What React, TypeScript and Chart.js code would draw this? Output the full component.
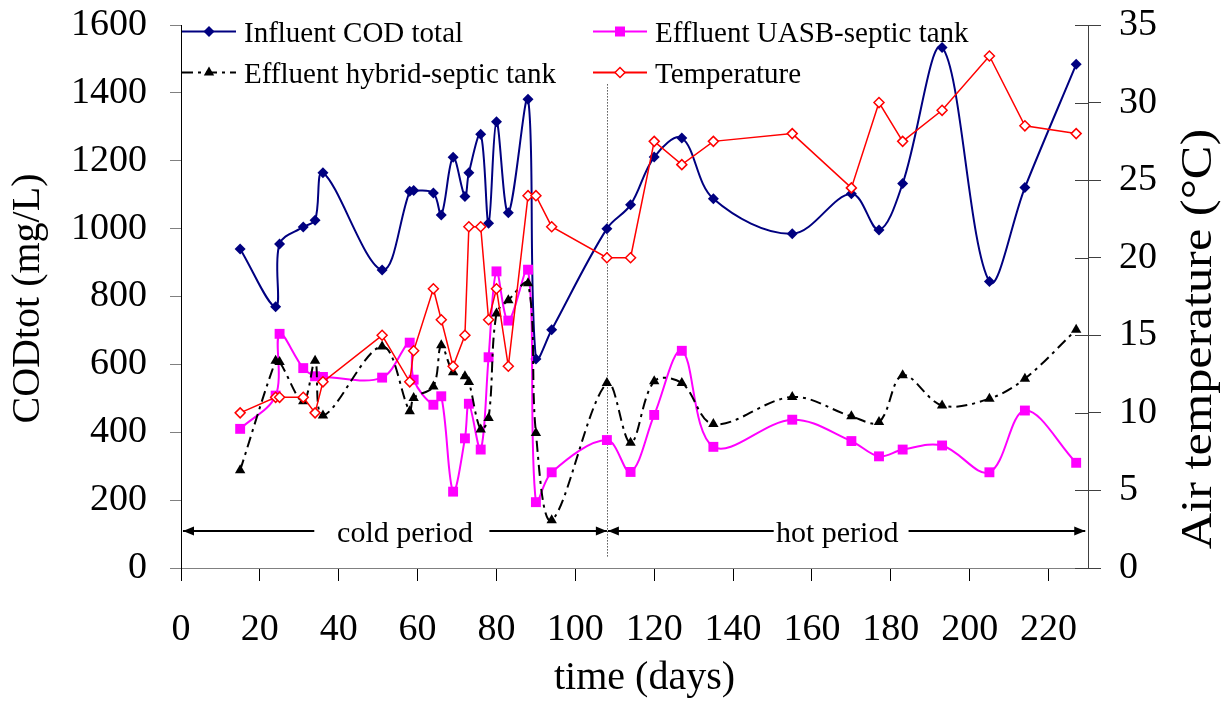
import React, { useEffect, useRef } from 'react';
import { Chart, registerables } from 'chart.js';

Chart.register(...registerables);

// ---- data ----
const days = [15, 24, 25, 31, 34, 36, 51, 58, 59, 64, 66, 69, 72, 73, 76, 78, 80, 83, 88, 90, 94, 108, 114, 120, 127, 135, 155, 170, 177, 183, 193, 205, 214, 227];
const influentCOD = [940, 770, 955, 1005, 1025, 1165, 878, 1110, 1112, 1105, 1040, 1210, 1095, 1165, 1278, 1016, 1315, 1047, 1381, 616, 702, 1000, 1070, 1211, 1267, 1088, 985, 1103, 996, 1133, 1534, 844, 1121, 1484];
const effluentUASB = [410, 508, 690, 589, 565, 563, 561, 664, 555, 481, 506, 225, 382, 484, 349, 621, 874, 729, 879, 194, 282, 377, 283, 451, 640, 357, 437, 374, 329, 349, 361, 282, 464, 310];
const effluentHybrid = [288, 611, 607, 491, 611, 449, 653, 462, 501, 535, 656, 577, 565, 548, 408, 442, 750, 789, 839, 398, 141, 545, 369, 550, 545, 424, 504, 447, 430, 568, 479, 499, 558, 702];
const temperature = [10, 11, 11, 11, 10, 12, 15, 12, 14, 18, 16, 13, 15, 22, 22, 16, 18, 13, 24, 24, 22, 20, 20, 27.5, 26, 27.5, 28, 24.5, 30, 27.5, 29.5, 33, 28.5, 28];

const seriesLabels = ['Influent COD total', 'Effluent UASB-septic tank', 'Effluent hybrid-septic tank', 'Temperature'];
const xTitle = 'time (days)';
const yTitle = 'CODtot (mg/L)';
const y1Title = 'Air temperature (°C)';
const periodBoundaryDay = 108;
const periodLabels = ['cold period', 'hot period'];
const periodArrowLevel = 108; // mg/L level of the period arrows

const FONT = "'Liberation Serif', 'Times New Roman', serif";
const NAVY = '#000080';
const MAGENTA = '#FF00FF';
const RED = '#FF0000';
const BLACK = '#000000';
const DASHDOT = [11, 5, 3, 5];

function drawMarker(ctx: CanvasRenderingContext2D, kind: string, x: number, y: number) {
  ctx.save();
  ctx.setLineDash([]);
  ctx.beginPath();
  if (kind === 'diamond') {
    const r = 5.5;
    ctx.moveTo(x, y - r); ctx.lineTo(x + r, y); ctx.lineTo(x, y + r); ctx.lineTo(x - r, y); ctx.closePath();
    ctx.fillStyle = NAVY; ctx.fill();
  } else if (kind === 'square') {
    const s = 5;
    ctx.rect(x - s, y - s, 2 * s, 2 * s);
    ctx.fillStyle = MAGENTA; ctx.fill();
  } else if (kind === 'triangle') {
    const r = 6;
    ctx.moveTo(x, y - r); ctx.lineTo(x + r * 0.866, y + r * 0.5); ctx.lineTo(x - r * 0.866, y + r * 0.5); ctx.closePath();
    ctx.fillStyle = BLACK; ctx.fill();
  } else {
    const r = 5;
    ctx.moveTo(x, y - r); ctx.lineTo(x + r, y); ctx.lineTo(x, y + r); ctx.lineTo(x - r, y); ctx.closePath();
    ctx.fillStyle = '#fff'; ctx.fill();
    ctx.strokeStyle = RED; ctx.lineWidth = 1.5; ctx.stroke();
  }
  ctx.restore();
}

function arrow(ctx: CanvasRenderingContext2D, x0: number, x1: number, y: number, headAt: 'start' | 'end') {
  ctx.save();
  ctx.strokeStyle = BLACK; ctx.fillStyle = BLACK; ctx.lineWidth = 2; ctx.setLineDash([]);
  ctx.beginPath(); ctx.moveTo(x0, y); ctx.lineTo(x1, y); ctx.stroke();
  const tip = headAt === 'start' ? x0 : x1;
  const dir = headAt === 'start' ? 1 : -1;
  ctx.beginPath();
  ctx.moveTo(tip, y);
  ctx.lineTo(tip + dir * 11, y - 4.5);
  ctx.lineTo(tip + dir * 11, y + 4.5);
  ctx.closePath(); ctx.fill();
  ctx.restore();
}

const decorPlugin = {
  id: 'decor',
  beforeDatasetsDraw(chart: any) {
    const { ctx, scales } = chart;
    const x = scales.x.getPixelForValue(periodBoundaryDay);
    ctx.save();
    ctx.strokeStyle = '#000'; ctx.lineWidth = 1; ctx.setLineDash([1, 2]);
    ctx.beginPath();
    ctx.moveTo(Math.round(x) + 0.5, scales.y.getPixelForValue(1425));
    ctx.lineTo(Math.round(x) + 0.5, scales.y.getPixelForValue(30));
    ctx.stroke();
    ctx.restore();
  },
  afterDraw(chart: any) {
    const { ctx, scales, chartArea } = chart;
    const sx = scales.x, sy = scales.y, sy1 = scales.y1;

    // inner part of right-axis ticks
    ctx.save();
    ctx.strokeStyle = '#404040'; ctx.lineWidth = 1;
    sy1.ticks.forEach((t: any) => {
      const py = Math.round(sy1.getPixelForValue(t.value)) + 0.5;
      ctx.beginPath(); ctx.moveTo(chartArea.right - 13, py); ctx.lineTo(chartArea.right, py); ctx.stroke();
    });
    ctx.restore();

    // period arrows and labels
    const ay = Math.round(sy.getPixelForValue(periodArrowLevel));
    const bx = sx.getPixelForValue(periodBoundaryDay);
    ctx.save();
    ctx.font = `30px ${FONT}`;
    ctx.fillStyle = '#000';
    ctx.textAlign = 'center';
    ctx.textBaseline = 'alphabetic';
    arrow(ctx, sx.getPixelForValue(0.5), sx.getPixelForValue(33.8), ay, 'start');
    ctx.fillText(periodLabels[0], sx.getPixelForValue(56.8), ay + 11);
    arrow(ctx, sx.getPixelForValue(78.2), bx, ay, 'end');
    arrow(ctx, bx + 1, sx.getPixelForValue(150.3), ay, 'start');
    ctx.fillText(periodLabels[1], sx.getPixelForValue(166.4), ay + 11);
    arrow(ctx, sx.getPixelForValue(184.5), sx.getPixelForValue(229.3), ay, 'end');
    ctx.restore();

    // legend
    const items = [
      { label: seriesLabels[0], color: NAVY, marker: 'diamond', dash: [] as number[], col: 0, row: 0 },
      { label: seriesLabels[1], color: MAGENTA, marker: 'square', dash: [] as number[], col: 1, row: 0 },
      { label: seriesLabels[2], color: BLACK, marker: 'triangle', dash: DASHDOT, col: 0, row: 1 },
      { label: seriesLabels[3], color: RED, marker: 'open', dash: [] as number[], col: 1, row: 1 },
    ];
    const colX = [chartArea.left + 1, chartArea.left + 412];
    const rowY = [31.5, 72.5];
    ctx.save();
    ctx.font = `29px ${FONT}`;
    ctx.textBaseline = 'alphabetic';
    ctx.textAlign = 'left';
    items.forEach((it) => {
      const x0 = colX[it.col];
      const y = rowY[it.row];
      ctx.save();
      ctx.strokeStyle = it.color; ctx.lineWidth = 2; ctx.setLineDash(it.dash);
      ctx.beginPath(); ctx.moveTo(x0, y); ctx.lineTo(x0 + 54, y); ctx.stroke();
      ctx.restore();
      drawMarker(ctx, it.marker, x0 + 27, y);
      ctx.fillStyle = '#000';
      ctx.fillText(it.label, x0 + 62, y + 10);
    });
    ctx.restore();

    // axis titles
    ctx.save();
    ctx.fillStyle = '#000';
    ctx.textAlign = 'center';
    ctx.textBaseline = 'middle';
    ctx.font = `40px ${FONT}`;
    ctx.fillText(xTitle, (chartArea.left + chartArea.right) / 2 + 10, 678);
    ctx.save();
    ctx.translate(28, (chartArea.top + chartArea.bottom) / 2 + 2);
    ctx.rotate(-Math.PI / 2);
    ctx.fillText(yTitle, 0, 0);
    ctx.restore();
    ctx.save();
    ctx.translate(1199, 339);
    ctx.rotate(-Math.PI / 2);
    ctx.scale(1.12, 1);
    ctx.font = `45px ${FONT}`;
    ctx.fillText(y1Title, 0, 0);
    ctx.restore();
    ctx.restore();
  },
};

const plainNumber = (v: any) => String(v);
const fixVertical = (width: number) => (s: any) => {
  s.width = width;
  s.paddingTop = 10;
  s.paddingBottom = 10;
};

export default function App() {
  const ref = useRef<HTMLCanvasElement | null>(null);
  useEffect(() => {
    document.body.style.margin = '0';
    const canvas = ref.current;
    if (!canvas) return;
    const pts = (vals: number[]) => days.map((d, i) => ({ x: d, y: vals[i] }));
    const chart = new Chart(canvas, {
      type: 'line',
      data: {
        datasets: [
          {
            label: seriesLabels[0], data: pts(influentCOD), yAxisID: 'y', order: 3,
            borderColor: NAVY, backgroundColor: NAVY, borderWidth: 2, tension: 0.35,
            pointStyle: 'rectRot', pointRadius: 5.5, pointBorderWidth: 0, pointBackgroundColor: NAVY,
          },
          {
            label: seriesLabels[1], data: pts(effluentUASB), yAxisID: 'y', order: 2,
            borderColor: MAGENTA, backgroundColor: MAGENTA, borderWidth: 2, tension: 0.35,
            pointStyle: 'rect', pointRadius: 7, pointBorderWidth: 0, pointBackgroundColor: MAGENTA,
          },
          {
            label: seriesLabels[2], data: pts(effluentHybrid), yAxisID: 'y', order: 1,
            borderColor: BLACK, backgroundColor: BLACK, borderWidth: 2, tension: 0.35, borderDash: DASHDOT,
            pointStyle: 'triangle', pointRadius: 6, pointBorderWidth: 0, pointBackgroundColor: BLACK,
          },
          {
            label: seriesLabels[3], data: pts(temperature), yAxisID: 'y1', order: 0,
            borderColor: RED, backgroundColor: '#fff', borderWidth: 1.5, tension: 0,
            pointStyle: 'rectRot', pointRadius: 5, pointBorderWidth: 1.5, pointBorderColor: RED, pointBackgroundColor: '#fff',
          },
        ],
      },
      options: {
        responsive: false,
        animation: false,
        devicePixelRatio: 1,
        layout: { padding: { top: 25, left: 0, right: 0, bottom: 0 } },
        plugins: { legend: { display: false }, tooltip: { enabled: false } },
        scales: {
          x: {
            type: 'linear', position: 'bottom', min: 0, max: 230,
            ticks: { stepSize: 20, includeBounds: false, autoSkip: false, maxRotation: 0, color: '#000', padding: 26, font: { family: FONT, size: 38 }, callback: plainNumber },
            grid: { drawOnChartArea: false, drawTicks: true, tickLength: 13, color: '#000' },
            border: { display: true, color: '#808080', width: 1 },
            afterFit: (s: any) => { s.height = 136; },
          },
          y: {
            type: 'linear', position: 'left', min: 0, max: 1600,
            ticks: { stepSize: 200, color: '#000', padding: 23, font: { family: FONT, size: 38 }, callback: plainNumber },
            grid: { drawOnChartArea: false, drawTicks: true, tickLength: 11, color: '#808080' },
            border: { display: true, color: '#000', width: 1 },
            afterFit: fixVertical(181),
          },
          y1: {
            type: 'linear', position: 'right', min: 0, max: 35,
            ticks: { stepSize: 5, color: '#000', padding: 18, font: { family: FONT, size: 38 }, callback: plainNumber },
            grid: { drawOnChartArea: false, drawTicks: true, tickLength: 13, color: '#404040' },
            border: { display: true, color: '#404040', width: 1 },
            afterFit: fixVertical(142),
          },
        },
      },
      plugins: [decorPlugin],
    } as any);
    return () => chart.destroy();
  }, []);
  return (
    <div style={{ width: 1230, height: 704, background: '#fff' }}>
      <canvas ref={ref} width={1230} height={704} style={{ display: 'block' }} />
    </div>
  );
}
